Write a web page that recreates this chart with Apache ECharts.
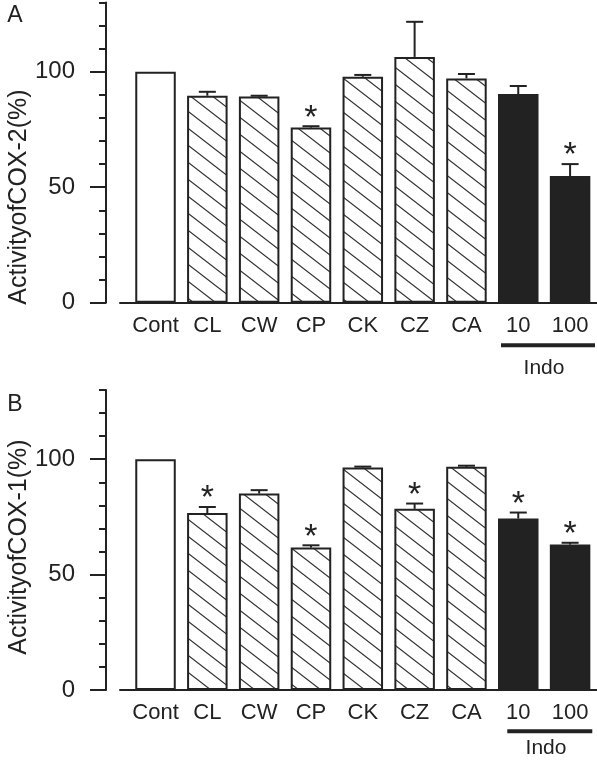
<!DOCTYPE html>
<html>
<head>
<meta charset="utf-8">
<script src="https://cdn.jsdelivr.net/npm/echarts@6/dist/echarts.min.js"></script>
<style>
html,body{margin:0;padding:0;background:#fff;}
#chart{width:597px;height:760px;}
</style>
</head>
<body>
<div id="chart"></div>
<script>
// ---- data ----
const categories = ['Cont', 'CL', 'CW', 'CP', 'CK', 'CZ', 'CA', '10', '100'];
const groups = ['open', 'hatch', 'hatch', 'hatch', 'hatch', 'hatch', 'hatch', 'solid', 'solid'];
const cox2Mean = [100, 89.6, 89.3, 75.8, 97.8, 106.4, 97.1, 90.3, 54.8];
const cox2Err  = [null, 1.7, 0.3, 0.6, 0.8, 15.2, 1.9, 3.5, 5.2];
const cox2Sig  = [0, 0, 0, 1, 0, 0, 0, 0, 1];
const cox1Mean = [100, 76.7, 85.1, 61.7, 96.4, 78.5, 96.7, 74.3, 63.0];
const cox1Err  = [null, 2.6, 1.5, 1.0, 0.4, 2.3, 0.5, 2.6, 0.8];
const cox1Sig  = [0, 1, 0, 1, 0, 1, 0, 1, 1];
const yMajorTicks = [0, 50, 100];
const yMax = 130;
const yMinorStep = 10;

// ---- style ----
const INK = '#222';
const FONT = 'Liberation Sans, Arial, Helvetica, sans-serif';

function hatchPattern() {
  const w = 22, h = 17;
  const c = document.createElement('canvas');
  c.width = w; c.height = h;
  const g = c.getContext('2d');
  g.fillStyle = '#fff';
  g.fillRect(0, 0, w, h);
  g.strokeStyle = '#333';
  g.lineWidth = 1.2;
  g.beginPath();
  g.moveTo(-w, -h); g.lineTo(2 * w, 2 * h);
  g.moveTo(-w, 0); g.lineTo(w, 2 * h);
  g.moveTo(0, -h); g.lineTo(2 * w, h);
  g.stroke();
  return c;
}
const hatch = { image: hatchPattern(), repeat: 'repeat' };

function fillFor(gr) {
  if (gr === 'open') return '#fff';
  if (gr === 'solid') return INK;
  return hatch;
}

const chart = echarts.init(document.getElementById('chart'), null, { renderer: 'canvas' });

const panels = [
  { top: 2.4, bottom: 457.3, mean: cox2Mean, err: cox2Err, sig: cox2Sig },
  { top: 390, bottom: 70, mean: cox1Mean, err: cox1Err, sig: cox1Sig }
];

const grid = [], xAxis = [], yAxis = [], series = [];
panels.forEach((p, k) => {
  const g0 = grid.length;
  grid.push({ left: 129.6, right: 1, top: p.top, bottom: p.bottom, containLabel: false, outerBoundsMode: 'none' });
  grid.push({ left: 120, right: 0, top: p.top, bottom: p.bottom, containLabel: false, outerBoundsMode: 'none' });
  const xCat = xAxis.length;
  xAxis.push({
    type: 'category', gridIndex: g0, data: categories,
    axisLine: { show: false }, axisTick: { show: false },
    axisLabel: { interval: 0, fontSize: 22, fontFamily: FONT, color: INK, margin: 12 }
  });
  xAxis.push({
    type: 'value', gridIndex: g0 + 1, min: 0, max: 1,
    axisLine: { show: true, onZero: false, lineStyle: { color: INK, width: 2 } },
    axisTick: { show: false }, axisLabel: { show: false }, splitLine: { show: false }
  });
  const yMinor = yAxis.length;
  yAxis.push({
    type: 'value', gridIndex: g0, position: 'left', min: 0, max: yMax, interval: yMinorStep, offset: 23.6,
    axisLine: { show: true, lineStyle: { color: INK, width: 2 } },
    axisTick: { show: true, length: 7, lineStyle: { color: INK, width: 2 } },
    axisLabel: { show: false }, splitLine: { show: false }
  });
  yAxis.push({
    type: 'value', gridIndex: g0, position: 'left', min: 0, max: yMax, interval: yMinorStep, offset: 23.6,
    axisLine: { show: false },
    axisTick: { show: true, length: 16, customValues: yMajorTicks, lineStyle: { color: INK, width: 2 } },
    axisLabel: { show: true, customValues: yMajorTicks, fontSize: 24, fontFamily: FONT, color: INK, margin: 31 },
    splitLine: { show: false }
  });
  yAxis.push({
    type: 'value', gridIndex: g0 + 1, min: 0, max: 1, show: false
  });

  series.push({
    type: 'bar', xAxisIndex: xCat, yAxisIndex: yMinor, barWidth: 40.5,
    data: p.mean.map((v, i) => ({
      value: v,
      itemStyle: { color: fillFor(groups[i]), borderColor: INK, borderWidth: 2 }
    })),
    silent: true, animation: false
  });
  series.push({
    type: 'custom', xAxisIndex: xCat, yAxisIndex: yMinor, clip: false, silent: true, animation: false,
    data: p.mean.map((v, i) => [i, v, p.err[i] == null ? v : v + p.err[i], p.sig[i], p.err[i] == null ? 0 : 1]),
    renderItem: function (params, api) {
      const i = api.value(0);
      const base = api.coord([i, api.value(1)]);
      const top = api.coord([i, api.value(2)]);
      const children = [];
      if (api.value(4)) {
        children.push(
          { type: 'line', shape: { x1: base[0], y1: base[1], x2: top[0], y2: top[1] }, style: { stroke: INK, lineWidth: 2 } },
          { type: 'line', shape: { x1: top[0] - 8.5, y1: top[1], x2: top[0] + 8.5, y2: top[1] }, style: { stroke: INK, lineWidth: 2 } }
        );
      }
      if (api.value(3)) {
        children.push({
          type: 'text',
          style: { text: '*', x: top[0], y: top[1] - 8, align: 'center', verticalAlign: 'middle',
                   fontSize: 34, fontFamily: FONT, fill: INK }
        });
      }
      return { type: 'group', children: children };
    }
  });
});

function label(text, x, y, size, rot) {
  return {
    type: 'text', x: x, y: y, rotation: rot || 0, silent: true,
    style: { text: text, fontSize: size, fontFamily: FONT, fill: INK,
             align: 'center', verticalAlign: 'middle', textAlign: 'center', textVerticalAlign: 'middle' }
  };
}

const graphic = [
  label('A', 15, 16, 23),
  label('B', 15, 405, 23),
  label('ActivityofCOX-2(%)', 19, 197, 25, Math.PI / 2),
  label('ActivityofCOX-1(%)', 19, 547, 25, Math.PI / 2),
  { type: 'rect', silent: true, shape: { x: 501, y: 343.3, width: 94, height: 4 }, style: { fill: INK } },
  { type: 'rect', silent: true, shape: { x: 507.3, y: 729.3, width: 85, height: 4 }, style: { fill: INK } },
  label('Indo', 544, 368, 21),
  label('Indo', 546, 748, 21)
];

chart.setOption({
  animation: false,
  backgroundColor: '#fff',
  grid: grid, xAxis: xAxis, yAxis: yAxis, series: series, graphic: graphic
});
</script>
</body>
</html>
